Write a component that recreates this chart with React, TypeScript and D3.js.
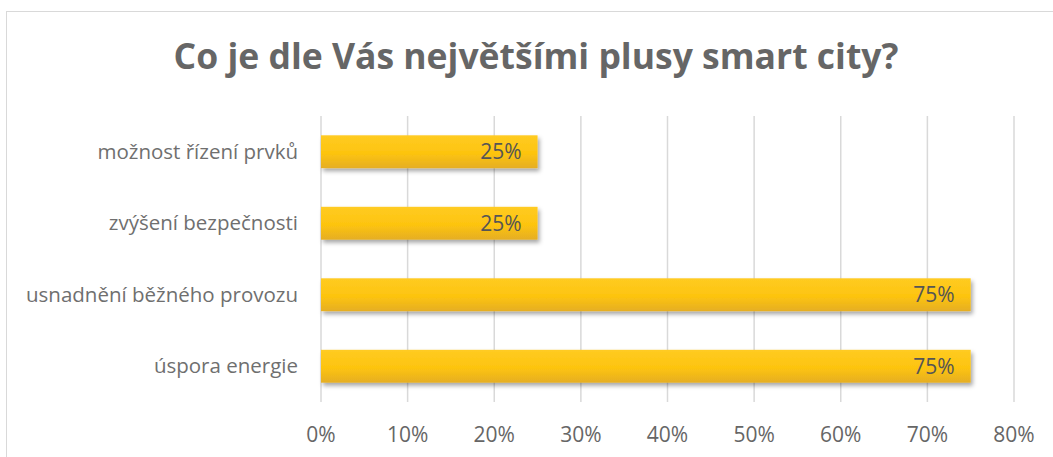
import React from 'react';
import * as d3 from 'd3';

const categories = ['možnost řízení prvků', 'zvýšení bezpečnosti', 'usnadnění běžného provozu', 'úspora energie'];
const values = [0.25, 0.25, 0.75, 0.75];
const xTicks = [0, 0.1, 0.2, 0.3, 0.4, 0.5, 0.6, 0.7, 0.8];
const title = 'Co je dle Vás největšími plusy smart city?';

const W = 1053;
const H = 457;
const FONT = '"Open Sans", sans-serif';

const App = () => {
  const x = d3.scaleLinear().domain([0, 0.8]).range([321, 1014]);
  const y = d3.scaleBand<string>()
    .domain(categories)
    .range([116, 402])
    .paddingInner(0.54)
    .paddingOuter(0.27);
  const fmt = d3.format('.0%');

  return (
    <svg width={W} height={H} style={{ position: 'absolute', left: 0, top: 0, background: '#fff' }}>
      <defs>
        <linearGradient id="barGrad" x1="0" y1="0" x2="0" y2="1">
          <stop offset="0%" stopColor="#ffcb22" />
          <stop offset="55%" stopColor="#fdc40f" />
          <stop offset="100%" stopColor="#e5ae24" />
        </linearGradient>
        <filter id="shadow" x="-5%" y="-30%" width="115%" height="180%">
          <feDropShadow dx="2" dy="3" stdDeviation="2" floodColor="#000" floodOpacity="0.35" />
        </filter>
      </defs>
      <rect x={6.5} y={11.5} width={W} height={H} fill="#fff" stroke="#d9d9d9" />

      <text x={536} y={69} textAnchor="middle" fontFamily={FONT} fontWeight="bold" fontSize={35.5} fill="#666">
        {title}
      </text>

      {xTicks.map(t => (
        <g key={t}>
          <line x1={x(t)} x2={x(t)} y1={116} y2={402} stroke="#d9d9d9" strokeWidth={1.5} />
          <text x={x(t)} y={442} textAnchor="middle" fontFamily={FONT} fontSize={21} fill="#666">
            {fmt(t)}
          </text>
        </g>
      ))}

      {categories.map((c, i) => {
        const by = y(c) as number;
        const bh = y.bandwidth();
        return (
          <g key={c}>
            <rect x={x(0)} y={by} width={x(values[i]) - x(0)} height={bh} fill="url(#barGrad)" filter="url(#shadow)" />
            <text x={x(values[i]) - 16} y={by + bh / 2} dy="0.36em" textAnchor="end" fontFamily={FONT} fontSize={21} fill="#555">
              {fmt(values[i])}
            </text>
            <text x={298} y={by + bh / 2} dy="0.34em" textAnchor="end" fontFamily={FONT} fontSize={20.5} fill="#6f6f6f">
              {c}
            </text>
          </g>
        );
      })}
    </svg>
  );
};

export default App;
